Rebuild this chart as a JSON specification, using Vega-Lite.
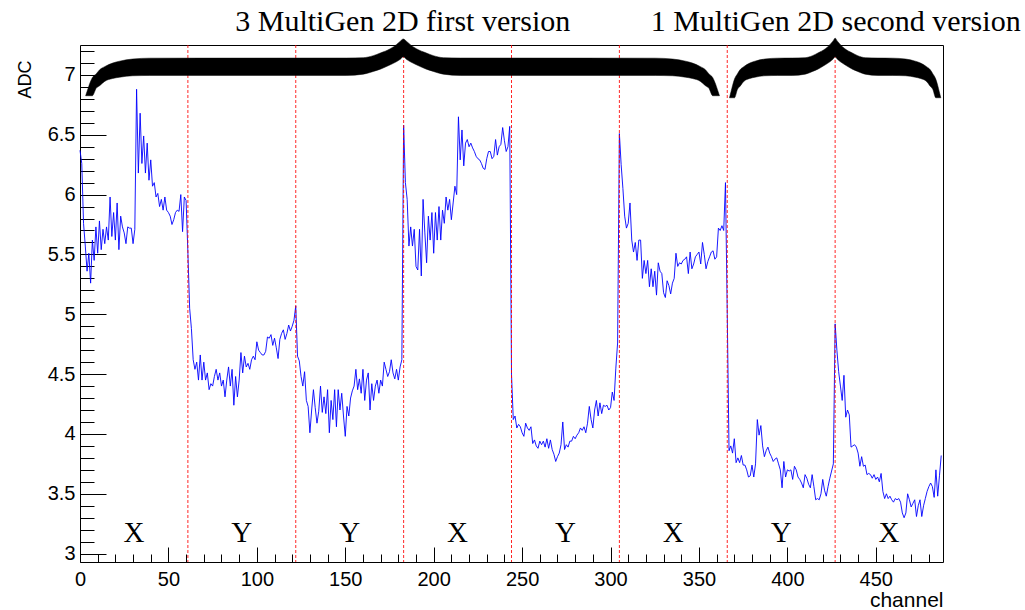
{
"$schema":"https://vega.github.io/schema/vega-lite/v6.json",
"width":863,"height":517,"autosize":{"type":"none"},
"padding":{"left":80,"top":45,"right":82,"bottom":48},
"background":"white",
"config":{"view":{"stroke":"black","strokeWidth":1}},
"datasets":{
"adc":[
{"ch":0,"adc":6.37},{"ch":1,"adc":6.26},{"ch":2,"adc":5.76},{"ch":3,"adc":5.57},{"ch":4,"adc":5.36},{"ch":5,"adc":5.51},{"ch":6,"adc":5.26},{"ch":7,"adc":5.62},{"ch":8,"adc":5.45},{"ch":9,"adc":5.73},
{"ch":10,"adc":5.51},{"ch":11,"adc":5.78},{"ch":12,"adc":5.54},{"ch":13,"adc":5.71},{"ch":14,"adc":5.59},{"ch":15,"adc":5.73},{"ch":16,"adc":5.62},{"ch":17,"adc":5.98},{"ch":18,"adc":5.65},{"ch":19,"adc":5.85},
{"ch":20,"adc":5.62},{"ch":21,"adc":5.93},{"ch":22,"adc":5.54},{"ch":23,"adc":5.82},{"ch":24,"adc":5.73},{"ch":25,"adc":5.68},{"ch":26,"adc":5.59},{"ch":27,"adc":5.73},{"ch":28,"adc":5.72},{"ch":29,"adc":5.72},
{"ch":30,"adc":5.59},{"ch":31,"adc":5.71},{"ch":32,"adc":6.88},{"ch":33,"adc":6.18},{"ch":34,"adc":6.68},{"ch":35,"adc":6.26},{"ch":36,"adc":6.49},{"ch":37,"adc":6.18},{"ch":38,"adc":6.43},{"ch":39,"adc":6.12},
{"ch":40,"adc":6.29},{"ch":41,"adc":6.07},{"ch":42,"adc":6.10},{"ch":43,"adc":5.98},{"ch":44,"adc":6.01},{"ch":45,"adc":5.90},{"ch":46,"adc":5.96},{"ch":47,"adc":5.87},{"ch":48,"adc":5.98},{"ch":49,"adc":5.87},
{"ch":50,"adc":5.85},{"ch":51,"adc":5.82},{"ch":52,"adc":5.75},{"ch":53,"adc":5.79},{"ch":54,"adc":5.85},{"ch":55,"adc":5.87},{"ch":56,"adc":5.86},{"ch":57,"adc":6.00},{"ch":58,"adc":5.69},{"ch":59,"adc":5.98},
{"ch":60,"adc":5.95},{"ch":61,"adc":5.52},{"ch":62,"adc":5.05},{"ch":63,"adc":4.88},{"ch":64,"adc":4.62},{"ch":65,"adc":4.54},{"ch":66,"adc":4.60},{"ch":67,"adc":4.45},{"ch":68,"adc":4.66},{"ch":69,"adc":4.45},
{"ch":70,"adc":4.60},{"ch":71,"adc":4.45},{"ch":72,"adc":4.51},{"ch":73,"adc":4.37},{"ch":74,"adc":4.42},{"ch":75,"adc":4.40},{"ch":76,"adc":4.48},{"ch":77,"adc":4.54},{"ch":78,"adc":4.45},{"ch":79,"adc":4.51},
{"ch":80,"adc":4.40},{"ch":81,"adc":4.45},{"ch":82,"adc":4.31},{"ch":83,"adc":4.45},{"ch":84,"adc":4.56},{"ch":85,"adc":4.40},{"ch":86,"adc":4.54},{"ch":87,"adc":4.24},{"ch":88,"adc":4.48},{"ch":89,"adc":4.31},
{"ch":90,"adc":4.45},{"ch":91,"adc":4.68},{"ch":92,"adc":4.51},{"ch":93,"adc":4.65},{"ch":94,"adc":4.56},{"ch":95,"adc":4.59},{"ch":96,"adc":4.54},{"ch":97,"adc":4.62},{"ch":98,"adc":4.65},{"ch":99,"adc":4.62},
{"ch":100,"adc":4.77},{"ch":101,"adc":4.70},{"ch":102,"adc":4.68},{"ch":103,"adc":4.66},{"ch":104,"adc":4.66},{"ch":105,"adc":4.69},{"ch":106,"adc":4.81},{"ch":107,"adc":4.80},{"ch":108,"adc":4.83},{"ch":109,"adc":4.74},
{"ch":110,"adc":4.80},{"ch":111,"adc":4.72},{"ch":112,"adc":4.63},{"ch":113,"adc":4.79},{"ch":114,"adc":4.84},{"ch":115,"adc":4.87},{"ch":116,"adc":4.79},{"ch":117,"adc":4.84},{"ch":118,"adc":4.91},{"ch":119,"adc":4.86},
{"ch":120,"adc":4.90},{"ch":121,"adc":4.95},{"ch":122,"adc":5.07},{"ch":123,"adc":4.65},{"ch":124,"adc":4.61},{"ch":125,"adc":4.48},{"ch":126,"adc":4.40},{"ch":127,"adc":4.52},{"ch":128,"adc":4.28},{"ch":129,"adc":4.23},
{"ch":130,"adc":4.01},{"ch":131,"adc":4.20},{"ch":132,"adc":4.37},{"ch":133,"adc":4.22},{"ch":134,"adc":4.09},{"ch":135,"adc":4.19},{"ch":136,"adc":4.40},{"ch":137,"adc":4.18},{"ch":138,"adc":4.31},{"ch":139,"adc":4.17},
{"ch":140,"adc":4.37},{"ch":141,"adc":4.01},{"ch":142,"adc":4.28},{"ch":143,"adc":4.12},{"ch":144,"adc":4.37},{"ch":145,"adc":4.06},{"ch":146,"adc":4.37},{"ch":147,"adc":4.20},{"ch":148,"adc":4.34},{"ch":149,"adc":4.15},
{"ch":150,"adc":3.98},{"ch":151,"adc":4.23},{"ch":152,"adc":4.15},{"ch":153,"adc":4.30},{"ch":154,"adc":4.36},{"ch":155,"adc":4.40},{"ch":156,"adc":4.54},{"ch":157,"adc":4.37},{"ch":158,"adc":4.46},{"ch":159,"adc":4.34},
{"ch":160,"adc":4.54},{"ch":161,"adc":4.28},{"ch":162,"adc":4.45},{"ch":163,"adc":4.51},{"ch":164,"adc":4.20},{"ch":165,"adc":4.42},{"ch":166,"adc":4.28},{"ch":167,"adc":4.40},{"ch":168,"adc":4.45},{"ch":169,"adc":4.34},
{"ch":170,"adc":4.45},{"ch":171,"adc":4.40},{"ch":172,"adc":4.60},{"ch":173,"adc":4.54},{"ch":174,"adc":4.48},{"ch":175,"adc":4.52},{"ch":176,"adc":4.62},{"ch":177,"adc":4.51},{"ch":178,"adc":4.46},{"ch":179,"adc":4.54},
{"ch":180,"adc":4.45},{"ch":181,"adc":4.56},{"ch":182,"adc":4.62},{"ch":183,"adc":6.58},{"ch":184,"adc":6.10},{"ch":185,"adc":5.96},{"ch":186,"adc":5.57},{"ch":187,"adc":5.73},{"ch":188,"adc":5.57},{"ch":189,"adc":5.71},
{"ch":190,"adc":5.40},{"ch":191,"adc":5.37},{"ch":192,"adc":5.71},{"ch":193,"adc":5.32},{"ch":194,"adc":5.96},{"ch":195,"adc":5.68},{"ch":196,"adc":5.43},{"ch":197,"adc":5.82},{"ch":198,"adc":5.62},{"ch":199,"adc":5.85},
{"ch":200,"adc":5.51},{"ch":201,"adc":5.85},{"ch":202,"adc":5.62},{"ch":203,"adc":5.90},{"ch":204,"adc":5.62},{"ch":205,"adc":5.87},{"ch":206,"adc":5.76},{"ch":207,"adc":5.98},{"ch":208,"adc":5.87},{"ch":209,"adc":5.96},
{"ch":210,"adc":5.79},{"ch":211,"adc":5.93},{"ch":212,"adc":6.07},{"ch":213,"adc":6.00},{"ch":214,"adc":6.65},{"ch":215,"adc":6.29},{"ch":216,"adc":6.54},{"ch":217,"adc":6.24},{"ch":218,"adc":6.43},{"ch":219,"adc":6.46},
{"ch":220,"adc":6.40},{"ch":221,"adc":6.43},{"ch":222,"adc":6.39},{"ch":223,"adc":6.36},{"ch":224,"adc":6.32},{"ch":225,"adc":6.30},{"ch":226,"adc":6.29},{"ch":227,"adc":6.26},{"ch":228,"adc":6.22},{"ch":229,"adc":6.21},
{"ch":230,"adc":6.30},{"ch":231,"adc":6.36},{"ch":232,"adc":6.36},{"ch":233,"adc":6.30},{"ch":234,"adc":6.32},{"ch":235,"adc":6.46},{"ch":236,"adc":6.33},{"ch":237,"adc":6.40},{"ch":238,"adc":6.42},{"ch":239,"adc":6.56},
{"ch":240,"adc":6.45},{"ch":241,"adc":6.36},{"ch":242,"adc":6.40},{"ch":243,"adc":6.57},{"ch":244,"adc":4.50},{"ch":245,"adc":4.12},{"ch":246,"adc":4.15},{"ch":247,"adc":4.05},{"ch":248,"adc":4.08},{"ch":249,"adc":4.06},
{"ch":250,"adc":4.01},{"ch":251,"adc":3.98},{"ch":252,"adc":4.09},{"ch":253,"adc":4.05},{"ch":254,"adc":4.03},{"ch":255,"adc":4.06},{"ch":256,"adc":3.92},{"ch":257,"adc":3.95},{"ch":258,"adc":3.90},{"ch":259,"adc":3.88},
{"ch":260,"adc":3.94},{"ch":261,"adc":3.91},{"ch":262,"adc":3.94},{"ch":263,"adc":3.89},{"ch":264,"adc":3.96},{"ch":265,"adc":3.88},{"ch":266,"adc":3.95},{"ch":267,"adc":3.87},{"ch":268,"adc":3.83},{"ch":269,"adc":3.77},
{"ch":270,"adc":3.81},{"ch":271,"adc":3.84},{"ch":272,"adc":3.91},{"ch":273,"adc":4.10},{"ch":274,"adc":3.87},{"ch":275,"adc":3.91},{"ch":276,"adc":3.89},{"ch":277,"adc":3.94},{"ch":278,"adc":3.94},{"ch":279,"adc":3.98},
{"ch":280,"adc":3.96},{"ch":281,"adc":3.99},{"ch":282,"adc":4.01},{"ch":283,"adc":4.05},{"ch":284,"adc":4.03},{"ch":285,"adc":4.06},{"ch":286,"adc":4.01},{"ch":287,"adc":4.09},{"ch":288,"adc":4.23},{"ch":289,"adc":4.12},
{"ch":290,"adc":4.05},{"ch":291,"adc":4.20},{"ch":292,"adc":4.28},{"ch":293,"adc":4.15},{"ch":294,"adc":4.26},{"ch":295,"adc":4.17},{"ch":296,"adc":4.24},{"ch":297,"adc":4.23},{"ch":298,"adc":4.24},{"ch":299,"adc":4.20},
{"ch":300,"adc":4.22},{"ch":301,"adc":4.35},{"ch":302,"adc":4.28},{"ch":303,"adc":4.55},{"ch":304,"adc":4.76},{"ch":305,"adc":6.51},{"ch":306,"adc":6.25},{"ch":307,"adc":6.05},{"ch":308,"adc":5.82},{"ch":309,"adc":5.72},
{"ch":310,"adc":5.76},{"ch":311,"adc":5.93},{"ch":312,"adc":5.62},{"ch":313,"adc":5.52},{"ch":314,"adc":5.60},{"ch":315,"adc":5.45},{"ch":316,"adc":5.62},{"ch":317,"adc":5.62},{"ch":318,"adc":5.30},{"ch":319,"adc":5.45},
{"ch":320,"adc":5.34},{"ch":321,"adc":5.45},{"ch":322,"adc":5.23},{"ch":323,"adc":5.38},{"ch":324,"adc":5.23},{"ch":325,"adc":5.36},{"ch":326,"adc":5.16},{"ch":327,"adc":5.43},{"ch":328,"adc":5.36},{"ch":329,"adc":5.34},
{"ch":330,"adc":5.18},{"ch":331,"adc":5.14},{"ch":332,"adc":5.28},{"ch":333,"adc":5.24},{"ch":334,"adc":5.17},{"ch":335,"adc":5.26},{"ch":336,"adc":5.30},{"ch":337,"adc":5.51},{"ch":338,"adc":5.40},{"ch":339,"adc":5.43},
{"ch":340,"adc":5.42},{"ch":341,"adc":5.45},{"ch":342,"adc":5.46},{"ch":343,"adc":5.48},{"ch":344,"adc":5.34},{"ch":345,"adc":5.52},{"ch":346,"adc":5.38},{"ch":347,"adc":5.42},{"ch":348,"adc":5.48},{"ch":349,"adc":5.50},
{"ch":350,"adc":5.52},{"ch":351,"adc":5.42},{"ch":352,"adc":5.60},{"ch":353,"adc":5.50},{"ch":354,"adc":5.38},{"ch":355,"adc":5.44},{"ch":356,"adc":5.48},{"ch":357,"adc":5.52},{"ch":358,"adc":5.53},{"ch":359,"adc":5.46},
{"ch":360,"adc":5.48},{"ch":361,"adc":5.72},{"ch":362,"adc":5.70},{"ch":363,"adc":5.74},{"ch":364,"adc":5.70},{"ch":365,"adc":6.10},{"ch":366,"adc":5.00},{"ch":367,"adc":3.86},{"ch":368,"adc":3.90},{"ch":369,"adc":3.84},
{"ch":370,"adc":3.96},{"ch":371,"adc":3.76},{"ch":372,"adc":3.80},{"ch":373,"adc":3.76},{"ch":374,"adc":3.82},{"ch":375,"adc":3.74},{"ch":376,"adc":3.74},{"ch":377,"adc":3.70},{"ch":378,"adc":3.64},{"ch":379,"adc":3.65},
{"ch":380,"adc":3.74},{"ch":381,"adc":3.64},{"ch":382,"adc":3.75},{"ch":383,"adc":4.12},{"ch":384,"adc":3.99},{"ch":385,"adc":4.07},{"ch":386,"adc":3.90},{"ch":387,"adc":3.81},{"ch":388,"adc":3.86},{"ch":389,"adc":3.89},
{"ch":390,"adc":3.84},{"ch":391,"adc":3.81},{"ch":392,"adc":3.77},{"ch":393,"adc":3.79},{"ch":394,"adc":3.80},{"ch":395,"adc":3.75},{"ch":396,"adc":3.70},{"ch":397,"adc":3.55},{"ch":398,"adc":3.77},{"ch":399,"adc":3.64},
{"ch":400,"adc":3.70},{"ch":401,"adc":3.69},{"ch":402,"adc":3.70},{"ch":403,"adc":3.62},{"ch":404,"adc":3.73},{"ch":405,"adc":3.70},{"ch":406,"adc":3.64},{"ch":407,"adc":3.62},{"ch":408,"adc":3.59},{"ch":409,"adc":3.55},
{"ch":410,"adc":3.66},{"ch":411,"adc":3.63},{"ch":412,"adc":3.58},{"ch":413,"adc":3.55},{"ch":414,"adc":3.66},{"ch":415,"adc":3.56},{"ch":416,"adc":3.45},{"ch":417,"adc":3.46},{"ch":418,"adc":3.45},{"ch":419,"adc":3.50},
{"ch":420,"adc":3.62},{"ch":421,"adc":3.53},{"ch":422,"adc":3.48},{"ch":423,"adc":3.56},{"ch":424,"adc":3.63},{"ch":425,"adc":3.69},{"ch":426,"adc":3.75},{"ch":427,"adc":4.92},{"ch":428,"adc":4.70},{"ch":429,"adc":4.52},
{"ch":430,"adc":4.40},{"ch":431,"adc":4.28},{"ch":432,"adc":4.49},{"ch":433,"adc":4.14},{"ch":434,"adc":4.20},{"ch":435,"adc":4.16},{"ch":436,"adc":3.89},{"ch":437,"adc":3.90},{"ch":438,"adc":3.91},{"ch":439,"adc":3.89},
{"ch":440,"adc":3.84},{"ch":441,"adc":3.73},{"ch":442,"adc":3.81},{"ch":443,"adc":3.73},{"ch":444,"adc":3.74},{"ch":445,"adc":3.66},{"ch":446,"adc":3.67},{"ch":447,"adc":3.66},{"ch":448,"adc":3.63},{"ch":449,"adc":3.66},
{"ch":450,"adc":3.62},{"ch":451,"adc":3.64},{"ch":452,"adc":3.60},{"ch":453,"adc":3.67},{"ch":454,"adc":3.52},{"ch":455,"adc":3.46},{"ch":456,"adc":3.50},{"ch":457,"adc":3.46},{"ch":458,"adc":3.48},{"ch":459,"adc":3.45},
{"ch":460,"adc":3.43},{"ch":461,"adc":3.46},{"ch":462,"adc":3.45},{"ch":463,"adc":3.46},{"ch":464,"adc":3.43},{"ch":465,"adc":3.34},{"ch":466,"adc":3.30},{"ch":467,"adc":3.34},{"ch":468,"adc":3.50},{"ch":469,"adc":3.45},
{"ch":470,"adc":3.39},{"ch":471,"adc":3.42},{"ch":472,"adc":3.45},{"ch":473,"adc":3.31},{"ch":474,"adc":3.40},{"ch":475,"adc":3.45},{"ch":476,"adc":3.31},{"ch":477,"adc":3.40},{"ch":478,"adc":3.46},{"ch":479,"adc":3.52},
{"ch":480,"adc":3.56},{"ch":481,"adc":3.59},{"ch":482,"adc":3.56},{"ch":483,"adc":3.47},{"ch":484,"adc":3.70},{"ch":485,"adc":3.48},{"ch":486,"adc":3.65},{"ch":487,"adc":3.82}
],
"seps":[{"ch":61},{"ch":122},{"ch":183},{"ch":244},{"ch":305},{"ch":366},{"ch":427}],
"braces":[
{"b":1,"ch":3.17,"adc":6.826,"adc2":6.826},{"b":1,"ch":4.30,"adc":6.876,"adc2":6.826},{"b":1,"ch":5.44,"adc":6.926,"adc2":6.826},{"b":1,"ch":6.96,"adc":6.977,"adc2":6.826},{"b":1,"ch":9.23,"adc":7.010,"adc2":6.890},{"b":1,"ch":11.10,"adc":7.043,"adc2":6.910},{"b":1,"ch":13.93,"adc":7.069,"adc2":6.946},{"b":1,"ch":18.46,"adc":7.099,"adc2":6.970},{"b":1,"ch":22.42,"adc":7.115,"adc2":6.981},{"b":1,"ch":29.78,"adc":7.133,"adc2":6.993},{"b":1,"ch":39.41,"adc":7.140,"adc2":6.996},
{"b":1,"ch":150.57,"adc":7.141,"adc2":6.996},{"b":1,"ch":160.19,"adc":7.144,"adc2":7.006},{"b":1,"ch":165.86,"adc":7.161,"adc2":7.029},{"b":1,"ch":169.82,"adc":7.183,"adc2":7.048},{"b":1,"ch":175.48,"adc":7.219,"adc2":7.085},{"b":1,"ch":178.88,"adc":7.253,"adc2":7.110},{"b":1,"ch":181.14,"adc":7.282,"adc2":7.131},{"b":1,"ch":182.84,"adc":7.300,"adc2":7.152},
{"b":1,"ch":184.54,"adc":7.282,"adc2":7.131},{"b":1,"ch":186.81,"adc":7.253,"adc2":7.110},{"b":1,"ch":190.20,"adc":7.219,"adc2":7.085},{"b":1,"ch":195.87,"adc":7.183,"adc2":7.048},{"b":1,"ch":199.83,"adc":7.161,"adc2":7.029},{"b":1,"ch":205.49,"adc":7.144,"adc2":7.006},{"b":1,"ch":215.12,"adc":7.141,"adc2":6.996},
{"b":1,"ch":325.37,"adc":7.140,"adc2":6.996},{"b":1,"ch":335.00,"adc":7.133,"adc2":6.993},{"b":1,"ch":342.36,"adc":7.115,"adc2":6.981},{"b":1,"ch":346.32,"adc":7.099,"adc2":6.970},{"b":1,"ch":350.85,"adc":7.069,"adc2":6.946},{"b":1,"ch":353.68,"adc":7.043,"adc2":6.910},{"b":1,"ch":355.55,"adc":7.010,"adc2":6.890},{"b":1,"ch":357.81,"adc":6.977,"adc2":6.826},{"b":1,"ch":359.34,"adc":6.926,"adc2":6.826},{"b":1,"ch":360.48,"adc":6.876,"adc2":6.826},{"b":1,"ch":361.61,"adc":6.826,"adc2":6.826},
{"b":2,"ch":367.27,"adc":6.809,"adc2":6.809},{"b":2,"ch":368.12,"adc":6.86,"adc2":6.809},{"b":2,"ch":368.97,"adc":6.91,"adc2":6.809},{"b":2,"ch":370.10,"adc":6.965,"adc2":6.809},{"b":2,"ch":371.80,"adc":7.010,"adc2":6.880},{"b":2,"ch":373.22,"adc":7.043,"adc2":6.905},{"b":2,"ch":375.34,"adc":7.069,"adc2":6.946},{"b":2,"ch":378.74,"adc":7.099,"adc2":6.970},{"b":2,"ch":381.71,"adc":7.115,"adc2":6.981},{"b":2,"ch":387.23,"adc":7.133,"adc2":6.993},{"b":2,"ch":394.45,"adc":7.140,"adc2":6.996},
{"b":2,"ch":402.80,"adc":7.141,"adc2":6.996},{"b":2,"ch":410.02,"adc":7.144,"adc2":7.006},{"b":2,"ch":414.27,"adc":7.161,"adc2":7.029},{"b":2,"ch":417.24,"adc":7.183,"adc2":7.048},{"b":2,"ch":421.49,"adc":7.219,"adc2":7.085},{"b":2,"ch":424.04,"adc":7.253,"adc2":7.110},{"b":2,"ch":425.74,"adc":7.282,"adc2":7.131},{"b":2,"ch":427.01,"adc":7.307,"adc2":7.152},
{"b":2,"ch":428.28,"adc":7.282,"adc2":7.131},{"b":2,"ch":429.98,"adc":7.253,"adc2":7.110},{"b":2,"ch":432.53,"adc":7.219,"adc2":7.085},{"b":2,"ch":436.77,"adc":7.183,"adc2":7.048},{"b":2,"ch":439.75,"adc":7.161,"adc2":7.029},{"b":2,"ch":444.00,"adc":7.144,"adc2":7.006},{"b":2,"ch":451.22,"adc":7.141,"adc2":6.996},
{"b":2,"ch":459.57,"adc":7.140,"adc2":6.996},{"b":2,"ch":466.79,"adc":7.133,"adc2":6.993},{"b":2,"ch":472.31,"adc":7.115,"adc2":6.981},{"b":2,"ch":475.28,"adc":7.099,"adc2":6.970},{"b":2,"ch":478.68,"adc":7.069,"adc2":6.946},{"b":2,"ch":480.80,"adc":7.043,"adc2":6.905},{"b":2,"ch":482.22,"adc":7.010,"adc2":6.880},{"b":2,"ch":483.92,"adc":6.965,"adc2":6.809},{"b":2,"ch":485.05,"adc":6.91,"adc2":6.809},{"b":2,"ch":485.90,"adc":6.86,"adc2":6.809},{"b":2,"ch":486.75,"adc":6.809,"adc2":6.809}
],
"titles":[{"ch":182.5,"adc":7.364,"t":"3 MultiGen 2D first version"},{"ch":427.3,"adc":7.364,"t":"1 MultiGen 2D second version"}],
"xy":[{"ch":30.5,"adc":3.094,"t":"X"},{"ch":91.5,"adc":3.094,"t":"Y"},{"ch":152.5,"adc":3.094,"t":"Y"},{"ch":213.5,"adc":3.094,"t":"X"},{"ch":274.5,"adc":3.094,"t":"Y"},{"ch":335.5,"adc":3.094,"t":"X"},{"ch":396.5,"adc":3.094,"t":"Y"},{"ch":457.5,"adc":3.094,"t":"X"}]
},
"encoding":{
"x":{"field":"ch","type":"quantitative","scale":{"domain":[0,488],"nice":false,"zero":false},
"axis":{"values":[0,10,20,30,40,50,60,70,80,90,100,110,120,130,140,150,160,170,180,190,200,210,220,230,240,250,260,270,280,290,300,310,320,330,340,350,360,370,380,390,400,410,420,430,440,450,460,470,480],
"labelExpr":"datum.value % 50 === 0 ? datum.label : ''",
"tickSize":{"condition":{"test":"datum.value % 50 === 0","value":-15},"value":-8},
"tickColor":"black","tickWidth":1,"domain":false,"grid":false,"labelFlush":false,"labelOverlap":false,
"labelPadding":22,"labelFont":"Liberation Sans","labelFontSize":20,"labelColor":"black",
"title":"channel","titleX":863,"titleY":44,"titleAlign":"right","titleBaseline":"alphabetic","titleFont":"Liberation Sans","titleFontSize":21,"titleFontWeight":"normal","titleColor":"black"}}
},
"layer":[
{"data":{"name":"adc"},"mark":{"type":"line","color":"#0000ff","strokeWidth":0.9},
"encoding":{"y":{"field":"adc","type":"quantitative","scale":{"domain":[2.93,7.25],"nice":false,"zero":false},
"axis":{"values":[3,3.1,3.2,3.3,3.4,3.5,3.6,3.7,3.8,3.9,4,4.1,4.2,4.3,4.4,4.5,4.6,4.7,4.8,4.9,5,5.1,5.2,5.3,5.4,5.5,5.6,5.7,5.8,5.9,6,6.1,6.2,6.3,6.4,6.5,6.6,6.7,6.8,6.9,7,7.1,7.2],
"labelExpr":"abs(datum.value*2 - round(datum.value*2)) < 0.01 ? format(datum.value, '~g') : ''",
"tickSize":{"condition":{"test":"abs(datum.value*2 - round(datum.value*2)) < 0.01","value":-26},"value":-14},
"tickColor":"black","tickWidth":1,"domain":false,"grid":false,"labelFlush":false,"labelOverlap":false,
"labelPadding":31,"labelFont":"Liberation Sans","labelFontSize":20,"labelColor":"black",
"title":"ADC","titleX":-50,"titleY":15,"titleAngle":-90,"titleAlign":"right","titleBaseline":"alphabetic","titleFont":"Liberation Sans","titleFontSize":18,"titleFontWeight":"normal","titleColor":"black"}}}},
{"data":{"name":"seps"},"mark":{"type":"rule","color":"#ff0000","strokeWidth":1,"strokeDash":[3,2],"opacity":0.85},"encoding":{}},
{"data":{"name":"braces"},"mark":{"type":"area","color":"black","interpolate":"monotone","stroke":"black","strokeWidth":0.5},
"encoding":{"y":{"field":"adc","type":"quantitative","scale":{"domain":[2.93,7.25],"nice":false,"zero":false},
"axis":{"values":[3,3.1,3.2,3.3,3.4,3.5,3.6,3.7,3.8,3.9,4,4.1,4.2,4.3,4.4,4.5,4.6,4.7,4.8,4.9,5,5.1,5.2,5.3,5.4,5.5,5.6,5.7,5.8,5.9,6,6.1,6.2,6.3,6.4,6.5,6.6,6.7,6.8,6.9,7,7.1,7.2],
"labelExpr":"abs(datum.value*2 - round(datum.value*2)) < 0.01 ? format(datum.value, '~g') : ''",
"tickSize":{"condition":{"test":"abs(datum.value*2 - round(datum.value*2)) < 0.01","value":-26},"value":-14},
"tickColor":"black","tickWidth":1,"domain":false,"grid":false,"labelFlush":false,"labelOverlap":false,
"labelPadding":31,"labelFont":"Liberation Sans","labelFontSize":20,"labelColor":"black",
"title":"ADC","titleX":-50,"titleY":15,"titleAngle":-90,"titleAlign":"right","titleBaseline":"alphabetic","titleFont":"Liberation Sans","titleFontSize":18,"titleFontWeight":"normal","titleColor":"black"}},
"y2":{"field":"adc2"},"detail":{"field":"b"}}},
{"data":{"name":"titles"},"mark":{"type":"text","font":"Liberation Serif","fontSize":30,"align":"center","baseline":"alphabetic","color":"black"},
"encoding":{"y":{"field":"adc","type":"quantitative","scale":{"domain":[2.93,7.25],"nice":false,"zero":false},
"axis":{"values":[3,3.1,3.2,3.3,3.4,3.5,3.6,3.7,3.8,3.9,4,4.1,4.2,4.3,4.4,4.5,4.6,4.7,4.8,4.9,5,5.1,5.2,5.3,5.4,5.5,5.6,5.7,5.8,5.9,6,6.1,6.2,6.3,6.4,6.5,6.6,6.7,6.8,6.9,7,7.1,7.2],
"labelExpr":"abs(datum.value*2 - round(datum.value*2)) < 0.01 ? format(datum.value, '~g') : ''",
"tickSize":{"condition":{"test":"abs(datum.value*2 - round(datum.value*2)) < 0.01","value":-26},"value":-14},
"tickColor":"black","tickWidth":1,"domain":false,"grid":false,"labelFlush":false,"labelOverlap":false,
"labelPadding":31,"labelFont":"Liberation Sans","labelFontSize":20,"labelColor":"black",
"title":"ADC","titleX":-50,"titleY":15,"titleAngle":-90,"titleAlign":"right","titleBaseline":"alphabetic","titleFont":"Liberation Sans","titleFontSize":18,"titleFontWeight":"normal","titleColor":"black"}},
"text":{"field":"t"}}},
{"data":{"name":"xy"},"mark":{"type":"text","font":"Liberation Serif","fontSize":29,"align":"center","baseline":"alphabetic","color":"black"},
"encoding":{"y":{"field":"adc","type":"quantitative","scale":{"domain":[2.93,7.25],"nice":false,"zero":false},
"axis":{"values":[3,3.1,3.2,3.3,3.4,3.5,3.6,3.7,3.8,3.9,4,4.1,4.2,4.3,4.4,4.5,4.6,4.7,4.8,4.9,5,5.1,5.2,5.3,5.4,5.5,5.6,5.7,5.8,5.9,6,6.1,6.2,6.3,6.4,6.5,6.6,6.7,6.8,6.9,7,7.1,7.2],
"labelExpr":"abs(datum.value*2 - round(datum.value*2)) < 0.01 ? format(datum.value, '~g') : ''",
"tickSize":{"condition":{"test":"abs(datum.value*2 - round(datum.value*2)) < 0.01","value":-26},"value":-14},
"tickColor":"black","tickWidth":1,"domain":false,"grid":false,"labelFlush":false,"labelOverlap":false,
"labelPadding":31,"labelFont":"Liberation Sans","labelFontSize":20,"labelColor":"black",
"title":"ADC","titleX":-50,"titleY":15,"titleAngle":-90,"titleAlign":"right","titleBaseline":"alphabetic","titleFont":"Liberation Sans","titleFontSize":18,"titleFontWeight":"normal","titleColor":"black"}},
"text":{"field":"t"}}}
]
}
